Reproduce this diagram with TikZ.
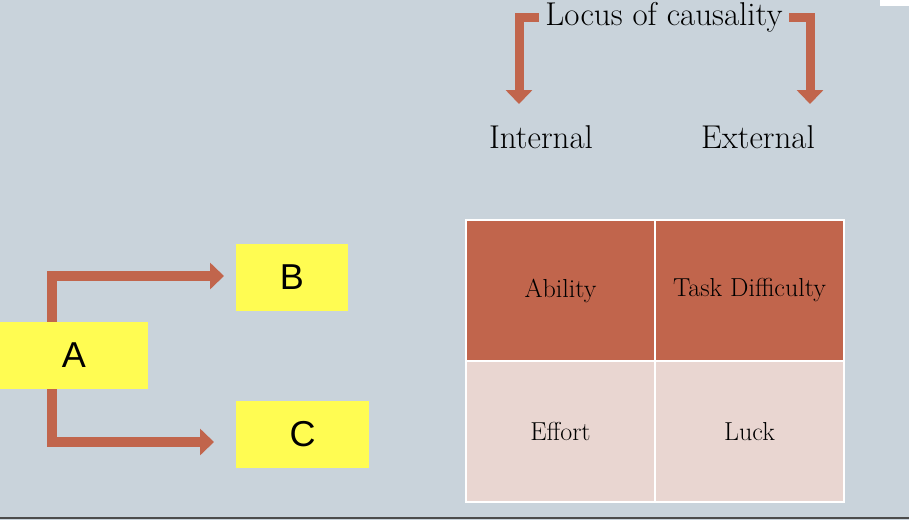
\documentclass[tikz,border=0pt]{standalone}
\usepackage{fontspec}
\newfontfamily\arialf{Liberation Sans}
\usetikzlibrary{arrows.meta}
\definecolor{bg}{HTML}{C9D3DB}
\definecolor{rust}{HTML}{C1654C}
\definecolor{pinkc}{HTML}{E9D6D1}
\definecolor{yel}{HTML}{FFFC52}
\begin{document}
\begin{tikzpicture}[x=1pt,y=-1pt,
  arr/.style={draw=rust,line width=10pt,-{Triangle[length=14pt,width=26pt]}},
  ybox/.style={fill=yel,inner sep=0pt,font=\arialf\fontsize{36}{40}\selectfont},
  cell/.style={draw=white,line width=1.5pt,minimum width=189pt,minimum height=141pt,inner sep=0pt,font=\fontsize{26}{30}\selectfont},
  lbl/.style={font=\fontsize{33}{38}\selectfont}]
\useasboundingbox (0,0) rectangle (909,520);
\fill[bg] (0,0) rectangle (909,520);
\fill[white] (880,0) rectangle (909,6);
\draw[gray!60!black,line width=1.5pt] (0,518) -- (909,518);
% left part
\coordinate (vt) at (52,276);
\coordinate (vb) at (52,442);
\node[ybox,minimum width=112pt,minimum height=67pt] (B) at (292,277.5) {B};
\node[ybox,minimum width=133pt,minimum height=67pt] (C) at (302.5,434.5) {C};
\draw[arr] (vb) -- (vt) -- (224,276);
\draw[arr] (vt) -- (vb) -- (214,442);
\node[ybox,minimum width=148pt,minimum height=67pt] (A) at (74,355.5) {A};
% top
\node[lbl] (L) at (664,17) {Locus of causality};
\node[lbl] (I) at (541,137) {Internal};
\node[lbl] (E) at (758,137) {External};
\draw[arr,line width=9pt,shorten <=3pt] (L.west) -- (519,17) -- (519,104);
\draw[arr,line width=9pt,shorten <=3pt] (L.east) -- (810,17) -- (810,104);
% table
\node[cell,fill=rust] (ab) at (560.5,290.5) {Ability};
\node[cell,fill=rust] (td) at (749.5,290.5) {Task Difficulty};
\node[cell,fill=pinkc] (ef) at (560.5,431.5) {Effort};
\node[cell,fill=pinkc] (lu) at (749.5,431.5) {Luck};
\end{tikzpicture}
\end{document}
